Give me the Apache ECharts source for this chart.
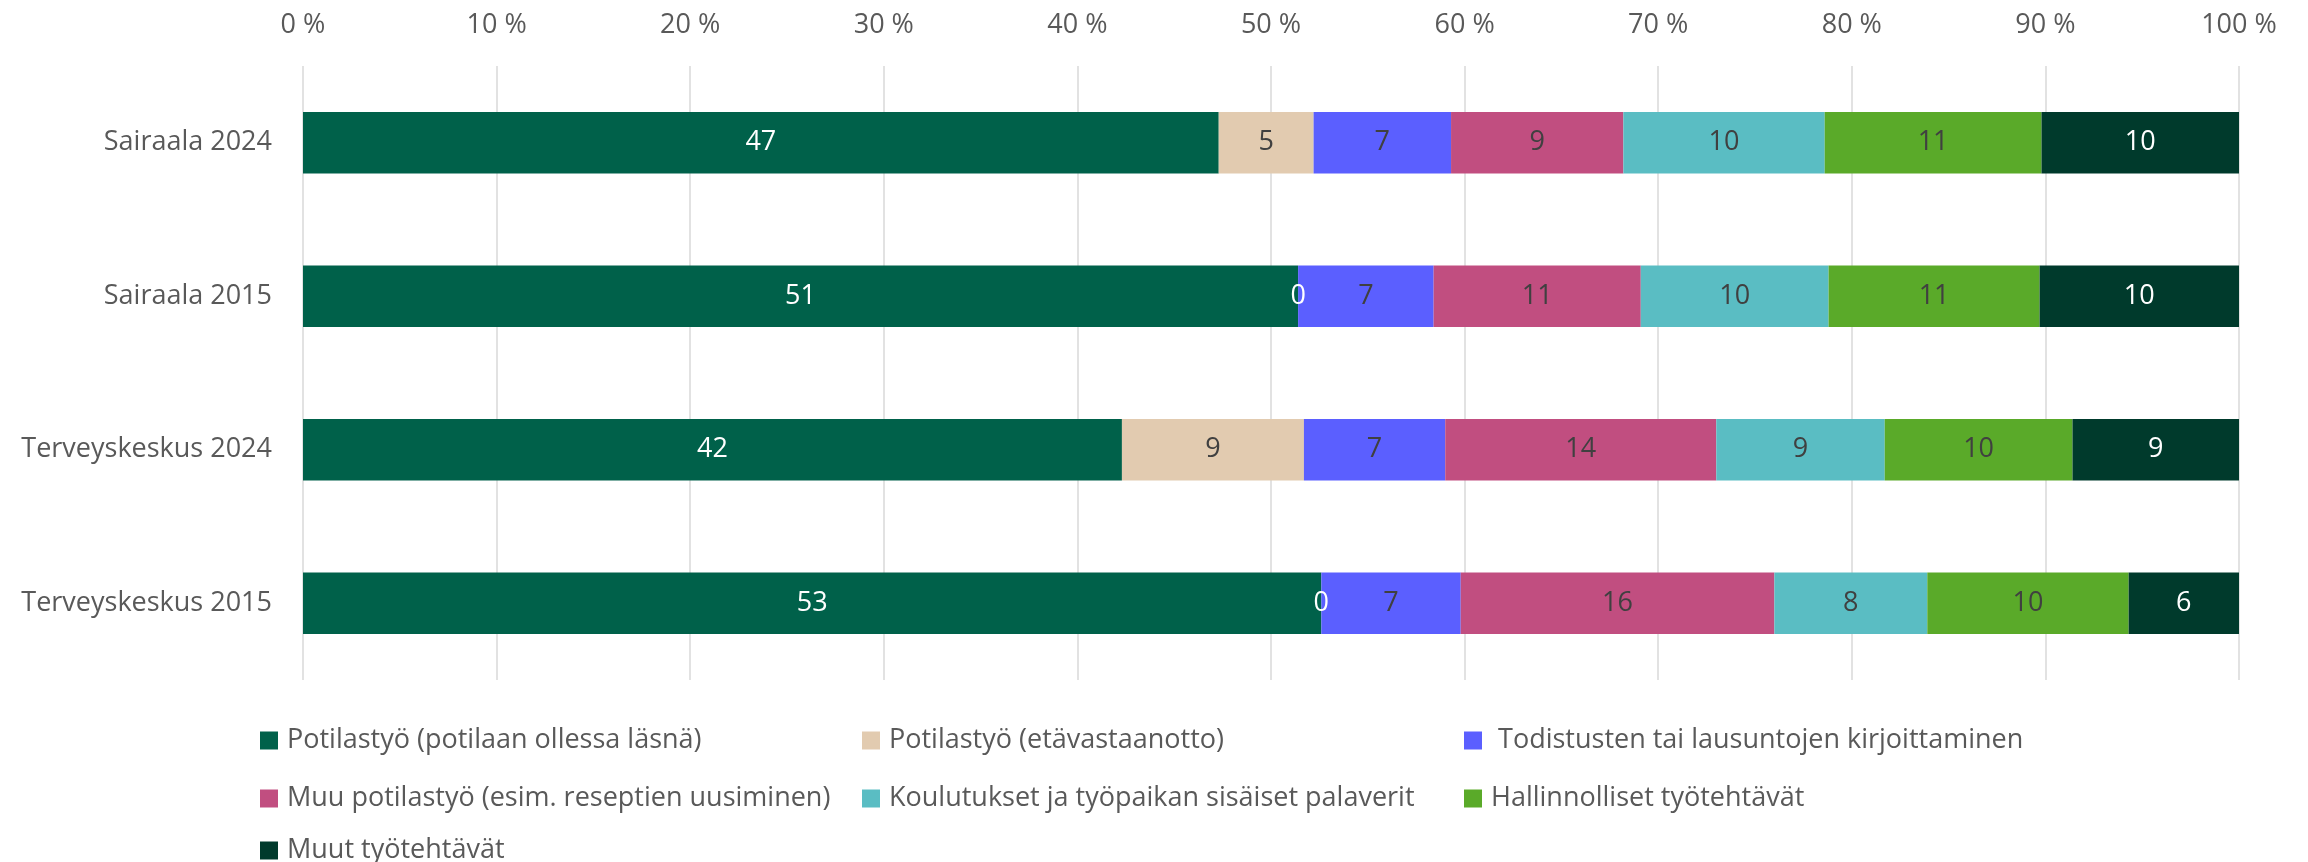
<!DOCTYPE html>
<html>
<head>
<meta charset="utf-8">
<script src="https://cdn.jsdelivr.net/npm/echarts@6/dist/echarts.min.js"></script>
<style>
  html, body { margin: 0; padding: 0; background: #fff; }
  #main { width: 2308px; height: 862px; }
</style>
</head>
<body>
<div id="main"></div>
<script>
// rivit ylhäältä alas
var categories = ['Sairaala 2024', 'Sairaala 2015', 'Terveyskeskus 2024', 'Terveyskeskus 2015'];

var seriesNames = [
    'Potilastyö (potilaan ollessa läsnä)',
    'Potilastyö (etävastaanotto)',
    ' Todistusten tai lausuntojen kirjoittaminen',
    'Muu potilastyö (esim. reseptien uusiminen)',
    'Koulutukset ja työpaikan sisäiset palaverit',
    'Hallinnolliset työtehtävät',
    'Muut työtehtävät'
];

// osuudet prosentteina (%), järjestys kuten categories
var lasna       = [47.3, 51.4, 42.3, 52.6];
var eta         = [4.9, 0, 9.4, 0];
var todistukset = [7.1, 7.0, 7.3, 7.2];
var muuPotilas  = [8.9, 10.7, 14.0, 16.2];
var koulutus    = [10.4, 9.7, 8.7, 7.9];
var hallinto    = [11.2, 10.9, 9.7, 10.4];
var muut        = [10.2, 10.3, 8.6, 5.7];

var xTicks = [0, 10, 20, 30, 40, 50, 60, 70, 80, 90, 100];

var values = [lasna, eta, todistukset, muuPotilas, koulutus, hallinto, muut];
var colors = ['#00614A', '#E2CBB0', '#5B5FFF', '#C14E80', '#5ABDC3', '#5AAA29', '#003A2C'];
var labelColors = ['#ffffff', '#404040', '#404040', '#404040', '#404040', '#404040', '#ffffff'];

var font = "'Open Sans', sans-serif";

var chart = echarts.init(document.getElementById('main'));

var series = values.map(function (arr, i) {
    return {
        name: seriesNames[i],
        type: 'bar',
        stack: 'total',
        barWidth: '40%',
        itemStyle: { color: colors[i] },
        label: {
            show: true,
            position: 'inside',
            fontFamily: font,
            fontSize: 27,
            color: labelColors[i],
            formatter: function (p) { return Math.round(p.value); }
        },
        data: arr.map(function (v) {
            // nollat näkyvät valkoisina rajakohdassa
            return v === 0 ? { value: v, label: { color: '#ffffff' } } : v;
        })
    };
});

// selite: kolme saraketta, viimeinen rivi omana osanaan ettei rivitys hajoa
function legendCol(left, top, names) {
    return {
        orient: 'vertical',
        left: left,
        top: top,
        padding: 0,
        itemWidth: 18,
        itemHeight: 18,
        itemGap: 31,
        icon: 'rect',
        data: names,
        textStyle: {
            fontFamily: font, fontSize: 27, color: '#595959',
            lineHeight: 24, padding: [0, 0, 0, 4]
        }
    };
}

chart.setOption({
    animation: false,
    grid: { left: 303, right: 69, top: 66, bottom: 182 },
    xAxis: {
        type: 'value',
        position: 'top',
        min: xTicks[0],
        max: xTicks[xTicks.length - 1],
        interval: xTicks[1] - xTicks[0],
        axisLine: { show: false },
        axisTick: { show: false },
        splitLine: { lineStyle: { color: '#D9D9D9', width: 1.5 } },
        axisLabel: {
            margin: 27,
            fontFamily: font,
            fontSize: 27,
            color: '#595959',
            formatter: '{value} %'
        }
    },
    yAxis: {
        type: 'category',
        inverse: true,
        data: categories,
        axisLine: { show: false },
        axisTick: { show: false },
        axisLabel: { margin: 31, fontFamily: font, fontSize: 27, color: '#595959' }
    },
    legend: [
        legendCol(260, 727, [seriesNames[0], seriesNames[3]]),
        legendCol(260, 837, [seriesNames[6]]),
        legendCol(862, 727, [seriesNames[1], seriesNames[4]]),
        legendCol(1464, 727, [seriesNames[2], seriesNames[5]])
    ],
    series: series
});
</script>
</body>
</html>
